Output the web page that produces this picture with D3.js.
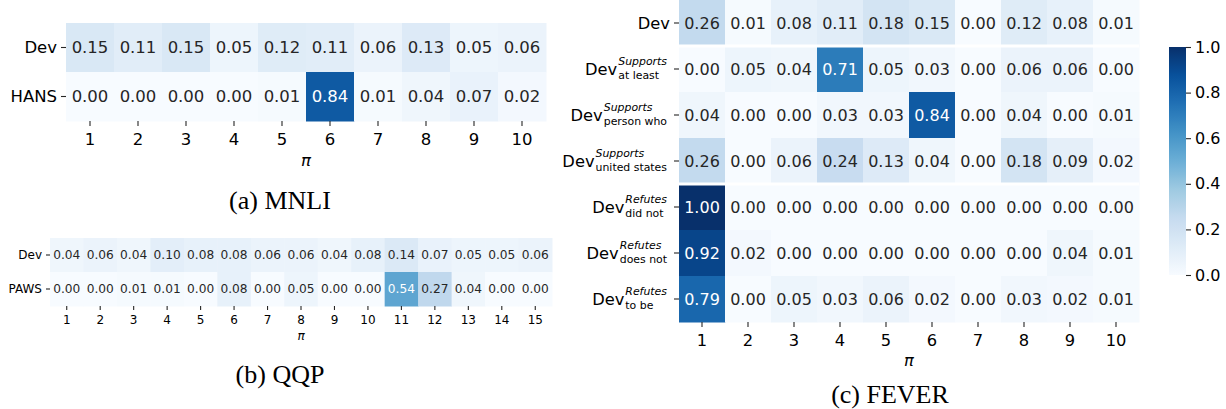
<!DOCTYPE html>
<html>
<head>
<meta charset="utf-8">
<script src="https://cdn.jsdelivr.net/npm/d3@7"></script>
<style>
  html, body { margin: 0; padding: 0; background: #fff; }
  svg { display: block; }
  text { font-family: "DejaVu Sans", sans-serif; fill: #000; }
</style>
</head>
<body>
<svg id="chart" width="1226" height="409"></svg>
<script>
// ---------------- DATA ----------------
const mnliCols = ["1","2","3","4","5","6","7","8","9","10"];
const mnliRows = ["Dev", "HANS"];
const mnliDev  = [0.15, 0.11, 0.15, 0.05, 0.12, 0.11, 0.06, 0.13, 0.05, 0.06];
const mnliHans = [0.00, 0.00, 0.00, 0.00, 0.01, 0.84, 0.01, 0.04, 0.07, 0.02];

const qqpCols = ["1","2","3","4","5","6","7","8","9","10","11","12","13","14","15"];
const qqpRows = ["Dev", "PAWS"];
const qqpDev  = [0.04, 0.06, 0.04, 0.10, 0.08, 0.08, 0.06, 0.06, 0.04, 0.08, 0.14, 0.07, 0.05, 0.05, 0.06];
const qqpPaws = [0.00, 0.00, 0.01, 0.01, 0.00, 0.08, 0.00, 0.05, 0.00, 0.00, 0.54, 0.27, 0.04, 0.00, 0.00];

const feverCols = ["1","2","3","4","5","6","7","8","9","10"];
const feverRowBase = ["Dev", "Dev", "Dev", "Dev", "Dev", "Dev", "Dev"];
const feverRowSup  = ["", "Supports", "Supports", "Supports", "Refutes", "Refutes", "Refutes"];
const feverRowSub  = ["", "at least", "person who", "united states", "did not", "does not", "to be"];
const feverDev          = [0.26, 0.01, 0.08, 0.11, 0.18, 0.15, 0.00, 0.12, 0.08, 0.01];
const feverSupAtLeast   = [0.00, 0.05, 0.04, 0.71, 0.05, 0.03, 0.00, 0.06, 0.06, 0.00];
const feverSupPersonWho = [0.04, 0.00, 0.00, 0.03, 0.03, 0.84, 0.00, 0.04, 0.00, 0.01];
const feverSupUnited    = [0.26, 0.00, 0.06, 0.24, 0.13, 0.04, 0.00, 0.18, 0.09, 0.02];
const feverRefDidNot    = [1.00, 0.00, 0.00, 0.00, 0.00, 0.00, 0.00, 0.00, 0.00, 0.00];
const feverRefDoesNot   = [0.92, 0.02, 0.00, 0.00, 0.00, 0.00, 0.00, 0.00, 0.04, 0.01];
const feverRefToBe      = [0.79, 0.00, 0.05, 0.03, 0.06, 0.02, 0.00, 0.03, 0.02, 0.01];

const colorbarTicks = [0.0, 0.2, 0.4, 0.6, 0.8, 1.0];
const captions = ["(a) MNLI", "(b) QQP", "(c) FEVER"];
const xAxisLabel = "π";

// ---------------- COLOR ----------------
const bluesStops = ["#f7fbff","#deebf7","#c6dbef","#9ecae1","#6baed6","#4292c6","#2171b5","#08519c","#08306b"];
const color = d3.scaleLinear()
  .domain(d3.range(bluesStops.length).map(i => i / (bluesStops.length - 1)))
  .range(bluesStops)
  .interpolate(d3.interpolateRgb)
  .clamp(true);

function textColor(v) {
  const c = d3.rgb(color(v));
  const lin = ch => { ch /= 255; return ch <= 0.03928 ? ch / 12.92 : Math.pow((ch + 0.055) / 1.055, 2.4); };
  const lum = 0.2126 * lin(c.r) + 0.7152 * lin(c.g) + 0.0722 * lin(c.b);
  return lum > 0.408 ? "#262626" : "#ffffff";
}

const svg = d3.select("#chart");

// ---------------- HEATMAP HELPER ----------------
function heatmap(cfg) {
  const g = svg.append("g");
  const x = d3.scaleBand().domain(cfg.cols).range([cfg.x0, cfg.x1]).padding(0);
  const y = d3.scaleBand().domain(d3.range(cfg.matrix.length)).range([cfg.y0, cfg.y1]).padding(0);

  const cells = [];
  cfg.matrix.forEach((row, ri) => row.forEach((v, ci) => cells.push({ ri, ci, v })));

  g.selectAll("rect.cell").data(cells).join("rect")
    .attr("class", "cell")
    .attr("x", d => x(cfg.cols[d.ci]))
    .attr("y", d => y(d.ri))
    .attr("width", x.bandwidth() + 0.5)
    .attr("height", y.bandwidth() + 0.5)
    .attr("fill", d => color(d.v));

  (cfg.separators || []).forEach(ri => {
    g.append("line")
      .attr("x1", cfg.x0).attr("x2", cfg.x1)
      .attr("y1", y(ri)).attr("y2", y(ri))
      .attr("stroke", "#fff").attr("stroke-width", 3);
  });

  g.selectAll("text.annot").data(cells).join("text")
    .attr("class", "annot")
    .attr("x", d => x(cfg.cols[d.ci]) + x.bandwidth() / 2)
    .attr("y", d => y(d.ri) + y.bandwidth() / 2)
    .attr("dy", "0.36em")
    .attr("text-anchor", "middle")
    .style("font-size", cfg.annotSize + "px")
    .style("fill", d => textColor(d.v))
    .text(d => d.v.toFixed(2));

  // x axis
  const xa = g.append("g")
    .attr("transform", `translate(0,${cfg.y1})`)
    .call(d3.axisBottom(x).tickSize(cfg.tickLen).tickPadding(cfg.xPad));
  xa.select(".domain").remove();
  xa.selectAll(".tick line").attr("stroke", "#262626").attr("stroke-width", 1.1);
  xa.selectAll(".tick text").style("font-size", cfg.tickSize + "px")
    .style("font-family", '"DejaVu Sans", sans-serif').attr("fill", "#000");

  // y axis (ticks only; labels drawn separately for mathtext)
  const ya = g.append("g")
    .attr("transform", `translate(${cfg.x0},0)`)
    .call(d3.axisLeft(y).tickSize(cfg.tickLen).tickFormat(() => ""));
  ya.select(".domain").remove();
  ya.selectAll(".tick line").attr("stroke", "#262626").attr("stroke-width", 1.1);
  ya.selectAll(".tick text").remove();

  cfg.rowBase.forEach((base, ri) => {
    const sup = cfg.rowSup ? cfg.rowSup[ri] : "";
    const sub = cfg.rowSub ? cfg.rowSub[ri] : "";
    const cy = y(ri) + y.bandwidth() / 2;
    if (!sup && !sub) {
      g.append("text").attr("x", cfg.labelEnd).attr("y", cy)
        .attr("text-anchor", "end").attr("dy", "0.36em")
        .style("font-size", cfg.tickSize + "px").text(base);
    } else {
      const ss = cfg.scriptSize;
      const end = cfg.labelEnd - 3;
      const tSup = g.append("text").attr("y", cy - 4.5)
        .style("font-size", ss + "px").style("font-style", "italic").text(sup);
      const tSub = g.append("text").attr("y", cy + 10)
        .style("font-size", ss + "px").text(sub);
      const w = Math.max(tSup.node().getComputedTextLength(), tSub.node().getComputedTextLength());
      tSup.attr("x", end - w);
      tSub.attr("x", end - w);
      g.append("text").attr("text-anchor", "end").attr("x", end - w - 1).attr("y", cy + 5.5)
        .style("font-size", cfg.tickSize + "px").text(base);
    }
  });

  // x label
  g.append("text")
    .attr("x", (cfg.x0 + cfg.x1) / 2)
    .attr("y", cfg.piY)
    .attr("text-anchor", "middle")
    .style("font-size", cfg.tickSize + "px")
    .style("font-style", "italic")
    .text(xAxisLabel);

  return g;
}

// ---------------- PANELS ----------------
heatmap({
  cols: mnliCols, matrix: [mnliDev, mnliHans], rowBase: mnliRows,
  x0: 66, x1: 546, y0: 23, y1: 121,
  annotSize: 16.5, tickSize: 16.5, scriptSize: 11, tickLen: 5, xPad: 7,
  labelEnd: 57, piY: 165.5
});

heatmap({
  cols: qqpCols, matrix: [qqpDev, qqpPaws], rowBase: qqpRows,
  x0: 50, x1: 552, y0: 238, y1: 306,
  annotSize: 12.2, tickSize: 12, scriptSize: 8, tickLen: 4, xPad: 5,
  labelEnd: 42, piY: 339.5
});

heatmap({
  cols: feverCols,
  matrix: [feverDev, feverSupAtLeast, feverSupPersonWho, feverSupUnited, feverRefDidNot, feverRefDoesNot, feverRefToBe],
  rowBase: feverRowBase, rowSup: feverRowSup, rowSub: feverRowSub,
  separators: [1, 4],
  x0: 679, x1: 1139, y0: 0, y1: 322,
  annotSize: 16, tickSize: 16.3, scriptSize: 10.9, tickLen: 5, xPad: 7,
  labelEnd: 670, piY: 365.5
});

// ---------------- COLORBAR ----------------
const cbX0 = 1169, cbX1 = 1186, cbY0 = 47, cbY1 = 275;
const defs = svg.append("defs");
const grad = defs.append("linearGradient").attr("id", "cbgrad")
  .attr("x1", "0").attr("y1", "1").attr("x2", "0").attr("y2", "0");
d3.range(0, 1.0001, 0.02).forEach(t => {
  grad.append("stop").attr("offset", t).attr("stop-color", color(t));
});
svg.append("rect").attr("x", cbX0).attr("y", cbY0)
  .attr("width", cbX1 - cbX0).attr("height", cbY1 - cbY0)
  .attr("fill", "url(#cbgrad)");
const cbScale = d3.scaleLinear().domain([0, 1]).range([cbY1, cbY0]);
const cba = svg.append("g").attr("transform", `translate(${cbX1},0)`)
  .call(d3.axisRight(cbScale).tickValues(colorbarTicks).tickFormat(d3.format(".1f")).tickSize(5).tickPadding(4));
cba.select(".domain").remove();
cba.selectAll(".tick line").attr("stroke", "#262626").attr("stroke-width", 1.1);
cba.selectAll(".tick text").style("font-size", "16px")
  .style("font-family", '"DejaVu Sans", sans-serif').attr("fill", "#000");

// ---------------- CAPTIONS ----------------
const capPos = [[280, 209], [280, 383], [890, 403]];
captions.forEach((c, i) => {
  svg.append("text")
    .attr("x", capPos[i][0]).attr("y", capPos[i][1])
    .attr("text-anchor", "middle")
    .style("font-family", '"Liberation Serif", "Times New Roman", serif')
    .style("font-size", "26px")
    .text(c);
});
</script>
</body>
</html>
